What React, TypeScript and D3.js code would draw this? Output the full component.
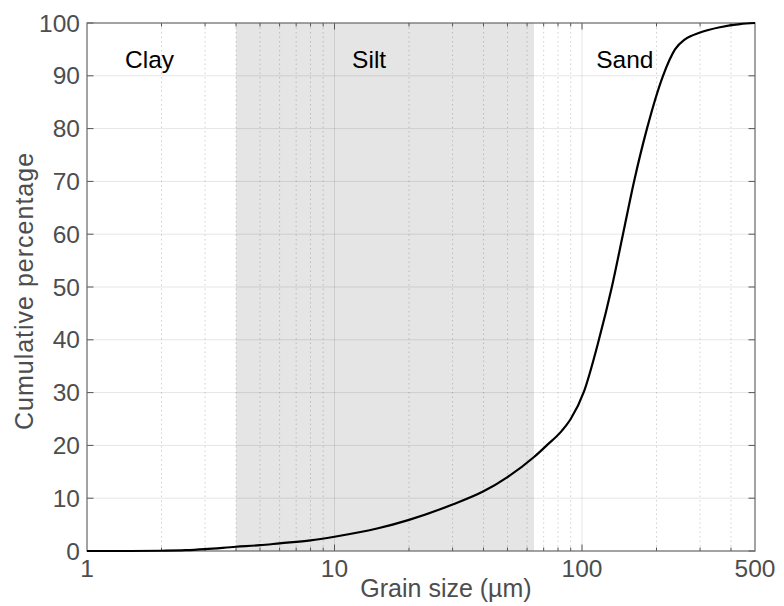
import React from "react";
import * as d3 from "d3";

const grainSize = [1, 1.5, 2, 2.5, 3, 4, 5, 6, 8, 10, 15, 20, 30, 40, 50, 64, 72, 83, 90, 102, 117, 132, 146.4, 162.3, 183, 212.5, 237.6, 260.8, 300, 361, 435, 500];
const cumulative = [0, 0, 0.05, 0.15, 0.35, 0.8, 1.1, 1.45, 2.0, 2.7, 4.3, 5.9, 8.8, 11.3, 14, 17.8, 20, 22.8, 25, 30.3, 40, 50, 60, 70, 80, 90, 95, 96.9, 98.2, 99.2, 99.8, 100];

const xTickValues = [1, 10, 100, 500];
const xTickLabels = ["1", "10", "100", "500"];
const yTickValues = [0, 10, 20, 30, 40, 50, 60, 70, 80, 90, 100];
const minorX = [2, 3, 4, 5, 6, 7, 8, 9, 20, 30, 40, 50, 60, 70, 80, 90, 200, 300, 400];
const majorX = [10, 100];

const siltRange = [4, 64];
const classNames = ["Clay", "Silt", "Sand"];
const classPositions = [1.79, 13.8, 149];

const W = 784, H = 606;
const m = { left: 87, right: 29, top: 23, bottom: 55 };
const font = "'Liberation Sans', Arial, Helvetica, sans-serif";

export default function App() {
  const x = d3.scaleLog().domain([1, 500]).range([m.left, W - m.right]);
  const y = d3.scaleLinear().domain([0, 100]).range([H - m.bottom, m.top]);
  const pts = grainSize.map((g, i) => [g, cumulative[i]] as [number, number]);
  const line = d3
    .line<[number, number]>()
    .x((d) => x(d[0]))
    .y((d) => y(d[1]))
    .curve(d3.curveMonotoneX);
  const x0 = m.left, x1 = W - m.right, y0 = H - m.bottom, y1 = m.top;
  return (
    <svg width={W} height={H} style={{ position: "absolute", left: 0, top: 0, background: "#fff" }}>
      <rect x={x(siltRange[0])} y={y1} width={x(siltRange[1]) - x(siltRange[0])} height={y0 - y1} fill="#e5e5e5" />
      {yTickValues.slice(1, -1).map((v) => (
        <line key={"hy" + v} x1={x0} x2={x1} y1={y(v)} y2={y(v)} stroke="#000" strokeOpacity={0.1} strokeWidth={1} />
      ))}
      {majorX.map((v) => (
        <line key={"mx" + v} x1={x(v)} x2={x(v)} y1={y0} y2={y1} stroke="#000" strokeOpacity={0.1} strokeWidth={1} />
      ))}
      {minorX.map((v) => (
        <line key={"nx" + v} x1={x(v)} x2={x(v)} y1={y0} y2={y1} stroke="#000" strokeOpacity={0.18} strokeWidth={1} strokeDasharray="1.5,3" />
      ))}
      {minorX.map((v) => (
        <g key={"tm" + v}>
          <line x1={x(v)} x2={x(v)} y1={y0} y2={y0 - 3.5} stroke="#555" />
          <line x1={x(v)} x2={x(v)} y1={y1} y2={y1 + 3.5} stroke="#555" />
        </g>
      ))}
      {majorX.map((v) => (
        <g key={"tM" + v}>
          <line x1={x(v)} x2={x(v)} y1={y0} y2={y0 - 6.5} stroke="#555" />
          <line x1={x(v)} x2={x(v)} y1={y1} y2={y1 + 6.5} stroke="#555" />
        </g>
      ))}
      {yTickValues.map((v) => (
        <g key={"ty" + v}>
          <line x1={x0} x2={x0 + 6.5} y1={y(v)} y2={y(v)} stroke="#555" />
          <line x1={x1} x2={x1 - 6.5} y1={y(v)} y2={y(v)} stroke="#555" />
        </g>
      ))}
      <rect x={x0} y={y1} width={x1 - x0} height={y0 - y1} fill="none" stroke="#666" strokeWidth={1.2} />
      <path d={line(pts) || ""} fill="none" stroke="#000" strokeWidth={2.2} />
      {classNames.map((c, i) => (
        <text key={c} x={x(classPositions[i])} y={68} textAnchor="middle" fontFamily={font} fontSize={24.5} fill="#000">
          {c}
        </text>
      ))}
      {yTickValues.map((v) => (
        <text key={"yl" + v} x={80} y={y(v)} dy="0.35em" textAnchor="end" fontFamily={font} fontSize={24.5} fill="#4d4d4d">
          {v}
        </text>
      ))}
      {xTickValues.map((v, i) => (
        <text key={"xl" + v} x={x(v)} y={577} textAnchor="middle" fontFamily={font} fontSize={24.5} fill="#4d4d4d">
          {xTickLabels[i]}
        </text>
      ))}
      <text x={446} y={597} textAnchor="middle" fontFamily={font} fontSize={25} fill="#4d4d4d">
        Grain size (µm)
      </text>
      <text transform={`translate(33,291) rotate(-90)`} textAnchor="middle" fontFamily={font} fontSize={25} letterSpacing={1} fill="#4d4d4d">
        Cumulative percentage
      </text>
    </svg>
  );
}
